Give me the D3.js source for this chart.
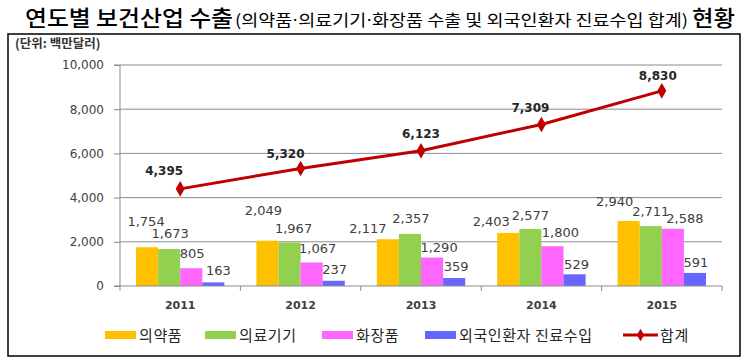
<!DOCTYPE html>
<html><head><meta charset="utf-8">
<script src="https://cdn.jsdelivr.net/npm/d3@7"></script>
<style>
html,body{margin:0;padding:0;background:#fff;}
svg{display:block;}
</style></head>
<body>
<svg id="chart" width="749" height="362"></svg>
<script>
// ---- data ----
const years = ["2011", "2012", "2013", "2014", "2015"];
const seriesNames = ["의약품", "의료기기", "화장품", "외국인환자 진료수입"];
const pharma = [1754, 2049, 2117, 2403, 2940];
const medDevice = [1673, 1967, 2357, 2577, 2711];
const cosmetics = [805, 1067, 1290, 1800, 2588];
const patients = [163, 237, 359, 529, 591];
const total = [4395, 5320, 6123, 7309, 8830];
const totalName = "합계";
const yTicks = [0, 2000, 4000, 6000, 8000, 10000];

// ---- styling / layout ----
const colors = ["#FFC000", "#92D050", "#FF66FF", "#6666FF"];
const lineColor = "#C00000";
const txtColor = "#404040";
// label nudges (dx, dy) relative to default placement above each bar
const barLabelNudge = [
  [[-1,-14],[1,-4],[1,-3],[5,0]],
  [[-4,-19],[4,-3],[6,-2],[1,0]],
  [[-20,1],[1,-4],[7,2],[2,0]],
  [[-17,0],[0,-2],[8,-2],[2,2]],
  [[-14,-8],[0,-3],[12,1],[1,1]]
];
const totalNudge = [[-16,-14],[-15,-10],[0,-13],[-11,-12],[-4,-11]];

const svg = d3.select("#chart");
const pLeft = 120, pRight = 722, pTop = 65, pBottom = 286;

const seriesData = [pharma, medDevice, cosmetics, patients];

const x = d3.scaleBand().domain(years).range([pLeft, pRight]).padding(0);
const xInner = d3.scaleBand().domain(d3.range(4)).range([16, x.bandwidth() - 16]).padding(0);
const y = d3.scaleLinear().domain([0, 10000]).range([pBottom, pTop]);

// title
const KR = "'Noto Sans CJK KR'";
svg.append("text").attr("x", 25).attr("y", 26)
  .attr("font-family", KR).attr("font-weight", 500).attr("font-size", 22)
  .attr("textLength", 208).attr("lengthAdjust", "spacingAndGlyphs")
  .text("연도별 보건산업 수출");
const sub = svg.append("text").attr("x", 235).attr("y", 25.5)
  .attr("font-family", KR).attr("font-weight", 400).attr("font-size", 16)
  .attr("textLength", 453).attr("lengthAdjust", "spacingAndGlyphs");
["(의약품", "·", "의료기기", "·", "화장품 수출 및 외국인환자 진료수입 합계)"].forEach(s => {
  const t = sub.append("tspan").text(s);
  if (s === "·") t.attr("font-family", "'DejaVu Sans'");
});
svg.append("text").attr("x", 692).attr("y", 26)
  .attr("font-family", KR).attr("font-weight", 500).attr("font-size", 22)
  .attr("textLength", 43).attr("lengthAdjust", "spacingAndGlyphs")
  .text("현황");

// frame
svg.append("rect").attr("x", 8).attr("y", 34).attr("width", 732).attr("height", 322)
  .attr("fill", "none").attr("stroke", "#000").attr("stroke-width", 1.5);

// unit
svg.append("text").attr("x", 15).attr("y", 48)
  .attr("font-family", KR).attr("font-weight", 700).attr("font-size", 12.5)
  .attr("fill", "#333").text("(단위: 백만달러)");

// gridlines
svg.append("g").selectAll("line").data(yTicks.filter(d => d > 0)).join("line")
  .attr("x1", pLeft).attr("x2", pRight).attr("y1", d => y(d)).attr("y2", d => y(d))
  .attr("stroke", "#8C8C8C").attr("stroke-width", 1);

// y axis
const yAxis = svg.append("g").attr("transform", `translate(${pLeft},0)`)
  .call(d3.axisLeft(y).tickValues(yTicks).tickFormat(d3.format(",")).tickSize(6).tickPadding(10));
yAxis.select(".domain").attr("stroke", "#8C8C8C").attr("d", `M-6,${y(10000)}H0V${pBottom}H-6`);
yAxis.selectAll(".tick line").attr("stroke", "#8C8C8C");
yAxis.selectAll(".tick text").attr("font-family", "'DejaVu Sans'").attr("font-size", 12).attr("fill", txtColor);

// bars
const groups = svg.append("g").selectAll("g").data(years).join("g")
  .attr("transform", d => `translate(${x(d)},0)`);
groups.selectAll("rect").data((d, i) => seriesData.map((s, k) => ({k, v: s[i]}))).join("rect")
  .attr("x", d => xInner(d.k)).attr("width", xInner.bandwidth())
  .attr("y", d => y(d.v)).attr("height", d => pBottom - y(d.v))
  .attr("fill", d => colors[d.k]);

// x axis
const xAxis = svg.append("g").attr("transform", `translate(0,${pBottom})`);
xAxis.append("line").attr("x1", pLeft).attr("x2", pRight).attr("stroke", "#8C8C8C");
xAxis.selectAll("line.t").data(years.map(d => x(d)).concat([pRight])).join("line").attr("class", "t")
  .attr("x1", d => d).attr("x2", d => d).attr("y1", 0).attr("y2", 5).attr("stroke", "#8C8C8C");
xAxis.selectAll("text").data(years).join("text")
  .attr("x", d => x(d) + x.bandwidth() / 2).attr("y", 23)
  .attr("text-anchor", "middle").attr("font-family", "'DejaVu Sans'").attr("font-weight", 700)
  .attr("font-size", 11).attr("fill", txtColor).text(d => d);

// bar labels
const fmt = d3.format(",");
groups.selectAll("text").data((d, i) => seriesData.map((s, k) => ({k, i, v: s[i]}))).join("text")
  .attr("x", d => xInner(d.k) + xInner.bandwidth() / 2 + barLabelNudge[d.i][d.k][0])
  .attr("y", d => y(d.v) - 7 + barLabelNudge[d.i][d.k][1])
  .attr("text-anchor", "middle").attr("font-family", "'DejaVu Sans'").attr("font-size", 13)
  .attr("fill", txtColor).text(d => fmt(d.v));

// total line
const cx = d => x(d) + x.bandwidth() / 2;
svg.append("path").datum(total)
  .attr("d", d3.line().x((d, i) => cx(years[i])).y(d => y(d)))
  .attr("fill", "none").attr("stroke", lineColor).attr("stroke-width", 3);
const diamond = d3.symbol().type(d3.symbolDiamond).size(70);
svg.append("g").selectAll("path").data(total).join("path")
  .attr("transform", (d, i) => `translate(${cx(years[i])},${y(d)})`)
  .attr("d", diamond).attr("fill", lineColor);
svg.append("g").selectAll("text").data(total).join("text")
  .attr("x", (d, i) => cx(years[i]) + totalNudge[i][0])
  .attr("y", (d, i) => y(d) + totalNudge[i][1])
  .attr("text-anchor", "middle").attr("font-family", "'DejaVu Sans'").attr("font-weight", 700)
  .attr("font-size", 12).attr("fill", "#262626").text(d => fmt(d));

// legend
const legendItems = [
  {name: seriesNames[0], type: "bar", color: colors[0], lx: 105},
  {name: seriesNames[1], type: "bar", color: colors[1], lx: 205},
  {name: seriesNames[2], type: "bar", color: colors[2], lx: 322},
  {name: seriesNames[3], type: "bar", color: colors[3], lx: 425},
  {name: totalName, type: "line", color: lineColor, lx: 623}
];
const ly = 335;
const lg = svg.append("g").selectAll("g").data(legendItems).join("g")
  .attr("transform", d => `translate(${d.lx},${ly})`);
lg.filter(d => d.type === "bar").append("rect")
  .attr("x", 0).attr("y", -4).attr("width", 31).attr("height", 8).attr("fill", d => d.color);
lg.filter(d => d.type === "line").append("line")
  .attr("x1", 0).attr("x2", 35).attr("y1", 0).attr("y2", 0).attr("stroke", d => d.color).attr("stroke-width", 3);
lg.filter(d => d.type === "line").append("path")
  .attr("transform", "translate(17.5,0)").attr("d", d3.symbol().type(d3.symbolDiamond).size(45)).attr("fill", d => d.color);
lg.append("text").attr("x", d => d.type === "line" ? 37 : 34).attr("y", 5.5)
  .attr("font-family", KR).attr("font-size", 15).attr("letter-spacing", 0.6).attr("fill", "#262626")
  .text(d => d.name);
</script>
</body></html>
